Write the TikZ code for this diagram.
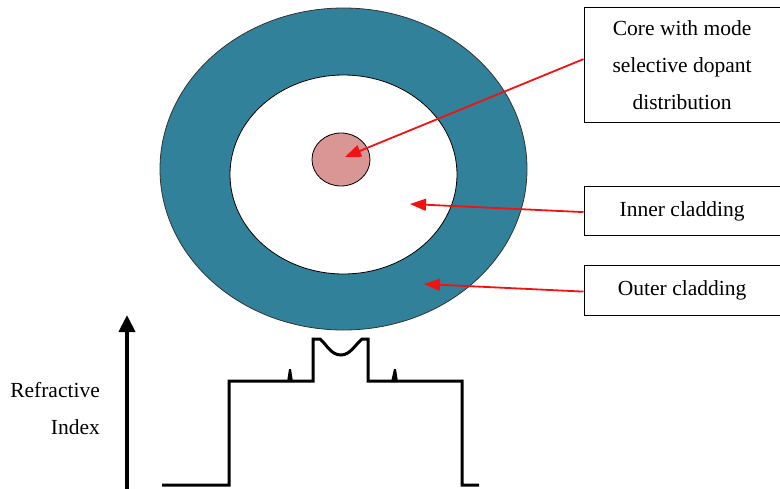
\documentclass[tikz,border=0pt]{standalone}
\usepackage{fontspec}
\setmainfont{Liberation Serif}
\usetikzlibrary{arrows.meta,shapes.geometric}
\definecolor{fibreteal}{HTML}{31819B}
\definecolor{corepink}{HTML}{D99694}
\definecolor{arrred}{HTML}{F21212}
\tikzset{
  labelbox/.style={draw=black, line width=1.2pt, minimum width=196pt, align=center, inner sep=0pt, font=\fontsize{21.5}{37}\selectfont},
  redarrow/.style={draw=arrred, line width=1.8pt, -{Triangle[length=16pt,width=12pt]}},
  profile/.style={line width=3pt, line join=miter},
  axislabel/.style={anchor=base east, font=\fontsize{21.5}{24}\selectfont, inner sep=0pt},
}
\begin{document}
\begin{tikzpicture}[x=1pt,y=-1pt]
\useasboundingbox (0,0) rectangle (780,488);
% fibre cross-section
\node[draw=black!80, line width=0.8pt, fill=fibreteal, ellipse, minimum width=367pt, minimum height=322pt, inner sep=0pt] (outer) at (343.5,169) {};
\node[draw=black, line width=0.8pt, fill=white, ellipse, minimum width=227pt, minimum height=199pt, inner sep=0pt] (inner) at (343.5,174.5) {};
\node[draw=black, line width=0.8pt, fill=corepink, ellipse, minimum width=58pt, minimum height=53pt, inner sep=0pt] (core) at (341,159.5) {};
% label boxes
\node[labelbox, minimum height=115pt, anchor=north west] (b1) at (583.5,7) {Core with mode\\selective dopant\\distribution};
\node[labelbox, minimum height=49pt, anchor=north west] (b2) at (583.5,186) {Inner cladding};
\node[labelbox, minimum height=50pt, anchor=north west] (b3) at (583.5,265) {Outer cladding};
% arrow targets
\coordinate (t1) at (345,157);
\coordinate (t2) at (410,204);
\coordinate (t3) at (424,284);
\draw[redarrow] (b1.west) ++(0,-6) -- (t1);
\draw[redarrow] (b2.west) ++(0,1) -- (t2);
\draw[redarrow] (b3.west) ++(0,1) -- (t3);
% refractive index axis
\coordinate (axbot) at (127,492);
\coordinate (axtop) at (127,315);
\draw[line width=4pt, -{Triangle[length=17pt,width=16pt]}] (axbot) -- (axtop);
\node[axislabel] (lab1) at (100,397) {Refractive};
\node[axislabel] (lab2) at (100,434) {Index};
% profile
\draw[profile] (162,485) -- (229,485) -- (229,381) -- (313,381) -- (313,339) -- (320,339)
  .. controls (327,345) and (331,355) .. (341,355)
  .. controls (350,355) and (355,345) .. (362,339)
  -- (368,339) -- (368,381) -- (462,381) -- (462,485) -- (479,485);
\fill (287,382) -- (289,369) -- (291,369) -- (293,382) -- cycle;
\fill (391,382) -- (394,369) -- (396,369) -- (398,382) -- cycle;
\end{tikzpicture}
\end{document}
